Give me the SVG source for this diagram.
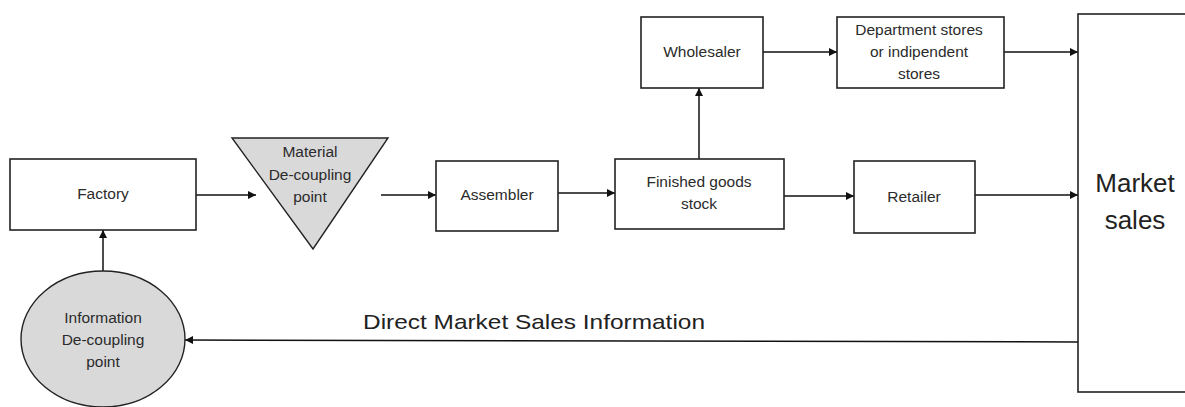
<svg xmlns="http://www.w3.org/2000/svg" width="1185" height="407" viewBox="0 0 1185 407">
<defs>
<marker id="ah" viewBox="0 0 10 10" refX="10" refY="5" markerWidth="9" markerHeight="8" markerUnits="userSpaceOnUse" orient="auto">
<path d="M0,0 L10,5 L0,10 z" fill="#111"/>
</marker>
<style>
.box{fill:#fff;stroke:#222;stroke-width:1.6}
.grey{fill:#d9d9d9;stroke:#222;stroke-width:1.4}
.t{font-family:"Liberation Sans",Arial,sans-serif;font-size:15.5px;fill:#2b2b2b;text-anchor:middle}
.big{font-family:"Liberation Sans",Arial,sans-serif;font-size:26px;fill:#222;text-anchor:middle}
.lbl{font-family:"Liberation Sans",Arial,sans-serif;font-size:21px;fill:#222}
.c{fill:none;stroke:#111;stroke-width:1.5;marker-end:url(#ah)}
</style>
</defs>
<rect width="1185" height="407" fill="#fff"/>
<g id="connectors">
<line class="c" x1="196" y1="195" x2="256" y2="195"/>
<line class="c" x1="381" y1="195" x2="436" y2="195"/>
<line class="c" x1="558" y1="193" x2="615" y2="193"/>
<line class="c" x1="699" y1="159" x2="699" y2="88"/>
<line class="c" x1="763" y1="52" x2="837" y2="52"/>
<line class="c" x1="1004" y1="52" x2="1078" y2="52"/>
<line class="c" x1="784" y1="196" x2="854" y2="196"/>
<line class="c" x1="975" y1="195" x2="1078" y2="195"/>
<line class="c" x1="103" y1="271" x2="103" y2="230"/>
<line class="c" x1="1078" y1="342" x2="185" y2="340"/>
<text class="lbl" x="363" y="329" textLength="342" lengthAdjust="spacingAndGlyphs">Direct Market Sales Information</text>
</g>
<g id="factory">
<rect class="box" x="10" y="159" width="186" height="71"/>
<text class="t" x="103" y="199">Factory</text>
</g>
<g id="material-decoupling">
<polygon class="grey" points="232,138 388,138 313,249"/>
<text class="t" x="310" y="157">Material</text>
<text class="t" x="310" y="180">De-coupling</text>
<text class="t" x="310" y="202">point</text>
</g>
<g id="assembler">
<rect class="box" x="436" y="161" width="122" height="70"/>
<text class="t" x="497" y="200">Assembler</text>
</g>
<g id="finished-goods">
<rect class="box" x="615" y="159" width="169" height="70"/>
<text class="t" x="699" y="187">Finished goods</text>
<text class="t" x="699" y="209">stock</text>
</g>
<g id="wholesaler">
<rect class="box" x="641" y="17" width="122" height="71"/>
<text class="t" x="702" y="57">Wholesaler</text>
</g>
<g id="department-stores">
<rect class="box" x="837" y="17" width="167" height="71"/>
<text class="t" x="919" y="35">Department stores</text>
<text class="t" x="919" y="57">or indipendent</text>
<text class="t" x="919" y="79">stores</text>
</g>
<g id="retailer">
<rect class="box" x="854" y="161" width="121" height="72"/>
<text class="t" x="914" y="202">Retailer</text>
</g>
<g id="market-sales">
<rect class="box" x="1078" y="14" width="130" height="378"/>
<text class="big" x="1135" y="192">Market</text>
<text class="big" x="1135" y="229">sales</text>
</g>
<g id="information-decoupling">
<ellipse class="grey" cx="103" cy="339" rx="82" ry="68"/>
<text class="t" x="103" y="323">Information</text>
<text class="t" x="103" y="345">De-coupling</text>
<text class="t" x="103" y="367">point</text>
</g>
</svg>
